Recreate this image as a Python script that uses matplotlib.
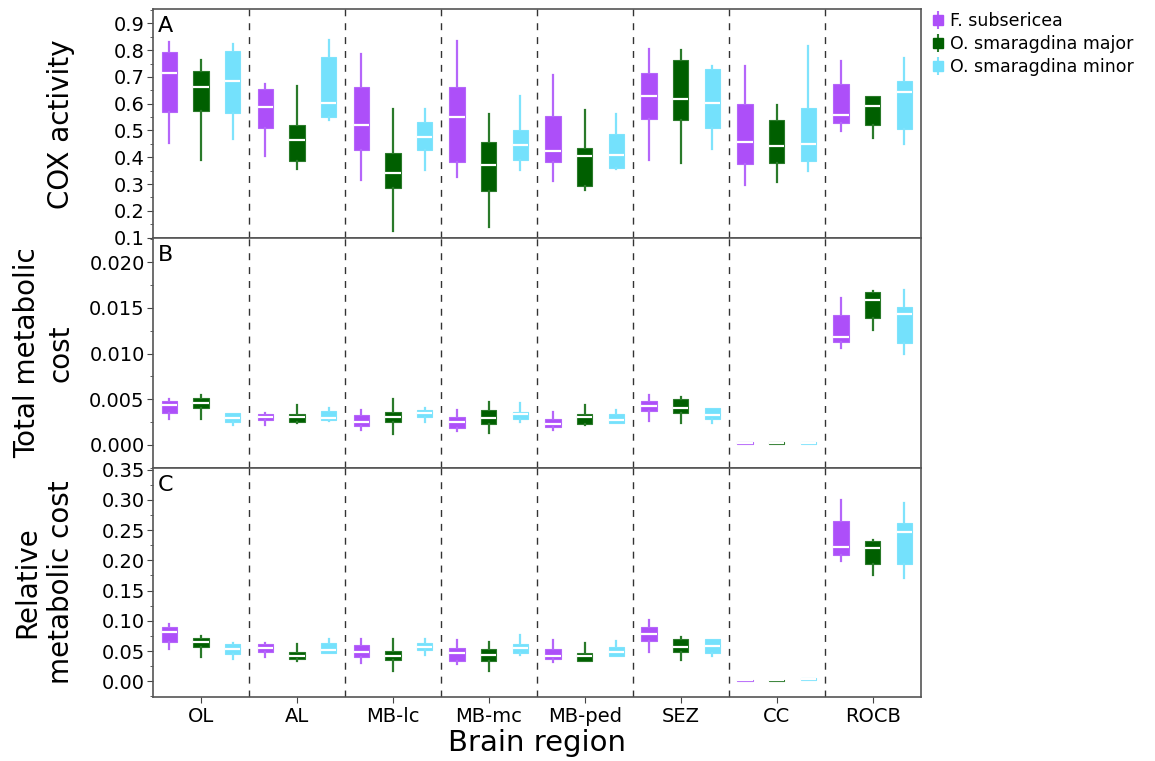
import matplotlib
matplotlib.use('Agg')
import matplotlib.pyplot as plt
from matplotlib.lines import Line2D
from matplotlib.legend_handler import HandlerTuple
from matplotlib.ticker import MultipleLocator

regions = ['OL', 'AL', 'MB-lc', 'MB-mc', 'MB-ped', 'SEZ', 'CC', 'ROCB']
species = ['F. subsericea', 'O. smaragdina major', 'O. smaragdina minor']
colors = ['#ad4ff9', '#005f00', '#74e1fc']
whisker_colors = ['#b566fa', '#2a7a2a', '#7fe3fc']

# (whisker low, q1, median, q3, whisker high) per region
cox_fsub = [(0.454, 0.569, 0.716, 0.794, 0.829), (0.404, 0.510, 0.586, 0.653, 0.675),
            (0.315, 0.426, 0.520, 0.661, 0.784), (0.325, 0.381, 0.550, 0.661, 0.833),
            (0.310, 0.384, 0.425, 0.553, 0.706), (0.390, 0.544, 0.628, 0.716, 0.806),
            (0.295, 0.375, 0.456, 0.598, 0.740), (0.499, 0.529, 0.559, 0.674, 0.761)]
cox_major = [(0.390, 0.571, 0.663, 0.721, 0.763), (0.355, 0.385, 0.463, 0.519, 0.666),
             (0.125, 0.285, 0.341, 0.416, 0.579), (0.140, 0.273, 0.370, 0.456, 0.563),
             (0.276, 0.291, 0.406, 0.433, 0.578), (0.378, 0.539, 0.616, 0.764, 0.800),
             (0.306, 0.378, 0.441, 0.538, 0.595), (0.471, 0.520, 0.593, 0.629, 0.629)]
cox_minor = [(0.468, 0.565, 0.683, 0.796, 0.824), (0.540, 0.550, 0.603, 0.773, 0.838),
             (0.351, 0.426, 0.474, 0.531, 0.579), (0.351, 0.390, 0.444, 0.501, 0.630),
             (0.355, 0.361, 0.409, 0.486, 0.561), (0.430, 0.509, 0.603, 0.731, 0.740),
             (0.348, 0.385, 0.451, 0.583, 0.815), (0.448, 0.505, 0.644, 0.684, 0.770)]

total_fsub = [(0.00280, 0.00353, 0.00437, 0.00481, 0.00506), (0.00215, 0.00273, 0.00306, 0.00335, 0.00346),
              (0.00160, 0.00208, 0.00255, 0.00328, 0.00383), (0.00153, 0.00182, 0.00255, 0.00306, 0.00383),
              (0.00160, 0.00200, 0.00230, 0.00288, 0.00361), (0.00262, 0.00372, 0.00426, 0.00481, 0.00546),
              (0.00015, 0.00015, 0.00022, 0.00030, 0.00030), (0.01064, 0.01126, 0.01180, 0.01421, 0.01603)]
total_major = [(0.00280, 0.00408, 0.00463, 0.00510, 0.00543), (0.00237, 0.00255, 0.00310, 0.00342, 0.00437),
               (0.00117, 0.00255, 0.00306, 0.00361, 0.00499), (0.00128, 0.00233, 0.00299, 0.00383, 0.00474),
               (0.00219, 0.00226, 0.00310, 0.00335, 0.00437), (0.00244, 0.00353, 0.00400, 0.00499, 0.00525),
               (0.00010, 0.00010, 0.00020, 0.00030, 0.00030), (0.01257, 0.01392, 0.01581, 0.01676, 0.01683)]
total_minor = [(0.00215, 0.00251, 0.00299, 0.00346, 0.00353), (0.00262, 0.00270, 0.00299, 0.00372, 0.00400),
               (0.00255, 0.00310, 0.00353, 0.00379, 0.00408), (0.00255, 0.00288, 0.00335, 0.00361, 0.00455),
               (0.00244, 0.00244, 0.00270, 0.00342, 0.00379), (0.00237, 0.00280, 0.00324, 0.00400, 0.00408),
               (0.00010, 0.00010, 0.00020, 0.00030, 0.00030), (0.00998, 0.01118, 0.01428, 0.01508, 0.01701)]

rel_fsub = [(0.0531, 0.0657, 0.0821, 0.0904, 0.0942), (0.0400, 0.0482, 0.0559, 0.0613, 0.0630),
            (0.0301, 0.0400, 0.0493, 0.0602, 0.0701), (0.0285, 0.0329, 0.0476, 0.0559, 0.0685),
            (0.0312, 0.0372, 0.0411, 0.0537, 0.0685), (0.0493, 0.0674, 0.0783, 0.0893, 0.1013),
            (0.0010, 0.0010, 0.0020, 0.0030, 0.0030), (0.1982, 0.2092, 0.2218, 0.2645, 0.2995)]
rel_major = [(0.0400, 0.0575, 0.0657, 0.0712, 0.0756), (0.0329, 0.0367, 0.0422, 0.0482, 0.0613),
             (0.0175, 0.0356, 0.0422, 0.0509, 0.0701), (0.0175, 0.0329, 0.0438, 0.0531, 0.0646),
             (0.0329, 0.0329, 0.0427, 0.0466, 0.0630), (0.0356, 0.0493, 0.0564, 0.0695, 0.0728),
             (0.0010, 0.0010, 0.0020, 0.0030, 0.0030), (0.1752, 0.1933, 0.2207, 0.2327, 0.2338)]
rel_minor = [(0.0367, 0.0449, 0.0537, 0.0613, 0.0630), (0.0466, 0.0466, 0.0520, 0.0641, 0.0701),
             (0.0438, 0.0520, 0.0575, 0.0641, 0.0695), (0.0438, 0.0476, 0.0548, 0.0613, 0.0767),
             (0.0411, 0.0427, 0.0482, 0.0575, 0.0668), (0.0422, 0.0476, 0.0591, 0.0695, 0.0701),
             (0.0030, 0.0030, 0.0040, 0.0050, 0.0050), (0.1714, 0.1933, 0.2464, 0.2612, 0.2941)]

panels = [
    ([cox_fsub, cox_major, cox_minor], 'COX activity', 'A', (0.097, 0.953), 0.1, 0.05, '{:.1f}'),
    ([total_fsub, total_major, total_minor], 'Total metabolic\ncost', 'B', (-0.0025, 0.0226), 0.005, 0.0025, '{:.3f}'),
    ([rel_fsub, rel_major, rel_minor], 'Relative\nmetabolic cost', 'C', (-0.026, 0.353), 0.05, 0.025, '{:.2f}'),
]

fig, axes = plt.subplots(3, 1, figsize=(11.55, 7.61), dpi=100, sharex=True)
fig.subplots_adjust(left=0.1325, right=0.797, top=0.988, bottom=0.084, hspace=0)

offsets = [-0.33, 0.0, 0.33]
width = 0.16

for ax, (series, ylabel, letter, ylim, major, minor, fmt) in zip(axes, panels):
    for k, data in enumerate(series):
        stats = [dict(whislo=s[0], q1=s[1], med=s[2], q3=s[3], whishi=s[4], fliers=[])
                 for s in data]
        pos = [i + 1 + offsets[k] for i in range(len(regions))]
        ax.bxp(stats, positions=pos, widths=width, patch_artist=True, showcaps=False,
               showfliers=False, manage_ticks=False,
               boxprops=dict(facecolor=colors[k], edgecolor=whisker_colors[k], linewidth=0.8),
               medianprops=dict(color='white', linewidth=1.6),
               whiskerprops=dict(color=whisker_colors[k], linewidth=1.6))
    for d in range(1, len(regions)):
        ax.axvline(d + 0.5, color='#333333', linestyle=(0, (5, 5)), linewidth=1, zorder=0)
    ax.set_ylim(*ylim)
    ax.yaxis.set_major_locator(MultipleLocator(major))
    ax.yaxis.set_minor_locator(MultipleLocator(minor))
    ax.yaxis.set_major_formatter(matplotlib.ticker.FuncFormatter(lambda v, p, f=fmt: f.format(v)))
    ax.tick_params(axis='y', which='major', labelsize=14, length=4, pad=2, color='#444444')
    ax.tick_params(axis='y', which='minor', length=2.5, color='#444444')
    ax.set_ylabel(ylabel, fontsize=20, linespacing=1.25)
    ax.yaxis.set_label_coords(-0.102, 0.5)
    ax.text(0.006, 0.97, letter, transform=ax.transAxes, fontsize=16, va='top', ha='left')
    for sp in ax.spines.values():
        sp.set_color('#555555')
        sp.set_linewidth(1.2)

axes[0].tick_params(axis='x', which='both', bottom=False)
axes[1].tick_params(axis='x', which='both', bottom=False)
axes[2].set_xlim(0.5, 8.5)
axes[2].set_xticks(range(1, len(regions) + 1))
axes[2].set_xticklabels(regions)
axes[2].tick_params(axis='x', labelsize=14, length=4, color='#444444')
axes[2].set_xlabel('Brain region', fontsize=21, labelpad=2)

handles = []
for k in range(3):
    handles.append((Line2D([], [], marker='|', markersize=13, markeredgewidth=1.5,
                           color=whisker_colors[k], linestyle='None'),
                    Line2D([], [], marker='s', markersize=7, color=colors[k], linestyle='None')))
fig.legend(handles, species, handler_map={tuple: HandlerTuple(ndivide=1)},
           loc='upper left', bbox_to_anchor=(0.794, 1.005), frameon=False, fontsize=12.5,
           handlelength=0.6, handletextpad=0.4, labelspacing=0.3)

fig.savefig('out.png', dpi=100)
